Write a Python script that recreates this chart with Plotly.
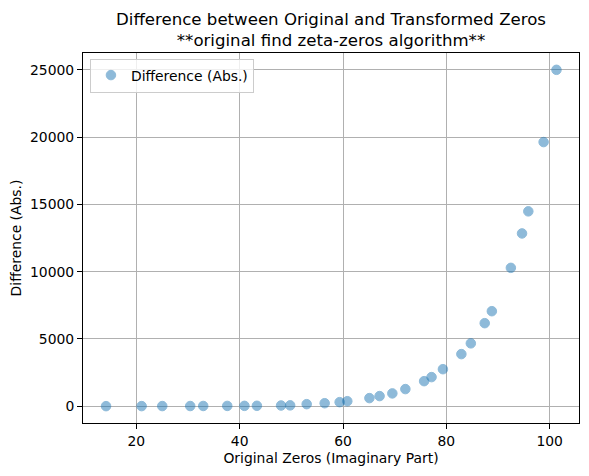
import plotly.graph_objects as go

# imaginary parts of the first 30 zeta zeros
zeros_imag = [14.13, 21.02, 25.01, 30.42, 32.94, 37.59, 40.92, 43.33, 48.01, 49.77,
              52.97, 56.45, 59.35, 60.83, 65.11, 67.08, 69.55, 72.07, 75.70, 77.14,
              79.34, 82.91, 84.74, 87.43, 88.81, 92.49, 94.65, 95.87, 98.83, 101.32]
# absolute difference
diff_abs = [2, 5, 8, 12, 15, 20, 25, 30, 50, 60,
            150, 220, 300, 370, 600, 750, 950, 1270, 1860, 2160,
            2750, 3870, 4670, 6170, 7060, 10280, 12840, 14480, 19630, 25000]

x_ticks = [20, 40, 60, 80, 100]
y_ticks = [0, 5000, 10000, 15000, 20000, 25000]
y_labels = [str(v) for v in y_ticks]

# the page body has an 8px margin, so the figure is a bit smaller than the window
W, H = 581, 468

fig = go.Figure()
fig.add_trace(go.Scatter(
    x=zeros_imag, y=diff_abs, mode="markers", name="Difference (Abs.)",
    marker=dict(color="#1f77b4", size=9.5, opacity=0.5,
                line=dict(color="#1f77b4", width=1)),
))

axis_style = dict(
    showline=True, linecolor="black", linewidth=1, mirror=True,
    ticks="outside", ticklen=5, tickcolor="black",
    showgrid=True, gridcolor="#b0b0b0", gridwidth=1,
    zeroline=False, tickfont=dict(size=13.9, color="black"),
)

fig.update_layout(
    width=W, height=H,
    margin=dict(l=75, r=10, t=45, b=53, autoexpand=False),
    paper_bgcolor="white", plot_bgcolor="white",
    font=dict(family="DejaVu Sans", color="black"),
    title=dict(
        text="Difference between Original and Transformed Zeros<br>**original find zeta-zeros algorithm**",
        x=(75 + 571) / 2 / W, xanchor="center",
        y=1 - 16.5 / H, yanchor="middle", yref="container",
        font=dict(size=16.6),
    ),
    xaxis=dict(axis_style, range=[9.67, 105.68], tickvals=x_ticks,
               title=dict(text="Original Zeros (Imaginary Part)", font=dict(size=13.9), standoff=5)),
    yaxis=dict(axis_style, range=[-1250, 26250], tickvals=y_ticks, ticktext=y_labels,
               title=dict(text="Difference (Abs.)", font=dict(size=13.9), standoff=8)),
    showlegend=True,
    legend=dict(x=0.014, y=0.985, xanchor="left", yanchor="top",
                bordercolor="#cccccc", borderwidth=1, bgcolor="rgba(255,255,255,0.8)",
                font=dict(size=13.9), tracegroupgap=0),
)

fig.write_html("out.html")
